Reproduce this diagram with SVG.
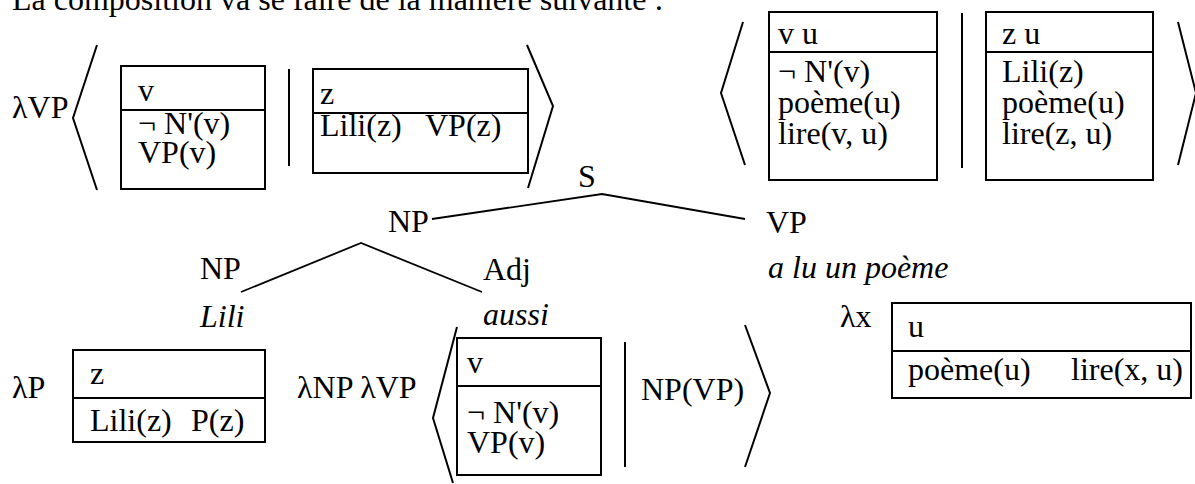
<svg xmlns="http://www.w3.org/2000/svg" width="1195" height="484" viewBox="0 0 1195 484" font-family="'Liberation Serif', 'Times New Roman', 'DejaVu Serif', serif">
<style>
text{font-family:'Liberation Serif','Times New Roman','DejaVu Serif',serif;font-size:32px;fill:#000}
.it{font-style:italic}
.box{fill:#fff;stroke:#000;stroke-width:2}
.ln{fill:none;stroke:#000;stroke-width:2}
.tr{fill:none;stroke:#000;stroke-width:1.8}
</style>
<rect width="1195" height="484" fill="#fff"/>
<text x="12" y="10">La composition va se faire de la manière suivante :</text>

<g id="top-left">
<text x="12" y="118">λVP</text>
<polyline class="ln" points="97,45 73,118 97,190"/>
<rect class="box" x="121" y="66" width="144" height="123"/>
<line class="ln" x1="121" y1="110" x2="265" y2="110"/>
<text x="138" y="101">v</text>
<text x="138" y="134">¬ N'(v)</text>
<text x="138" y="163">VP(v)</text>
<line class="ln" x1="289" y1="69" x2="289" y2="166"/>
<rect class="box" x="313" y="69" width="215" height="104"/>
<line class="ln" x1="313" y1="113" x2="528" y2="113"/>
<text x="320" y="104">z</text>
<text x="320" y="136">Lili(z)</text>
<text x="425" y="136">VP(z)</text>
<polyline class="ln" points="527,45 553,106 528,188"/>
</g>

<g id="top-right">
<polyline class="ln" points="743,22 721,93 745,165"/>
<rect class="box" x="769" y="12" width="168" height="168"/>
<line class="ln" x1="769" y1="52" x2="937" y2="52"/>
<text x="778" y="44">v u</text>
<text x="778" y="82">¬ N'(v)</text>
<text x="778" y="113">poème(u)</text>
<text x="778" y="144">lire(v, u)</text>
<line class="ln" x1="962" y1="13" x2="962" y2="168"/>
<rect class="box" x="986" y="12" width="167" height="168"/>
<line class="ln" x1="986" y1="52" x2="1153" y2="52"/>
<text x="1002" y="44">z u</text>
<text x="1002" y="82">Lili(z)</text>
<text x="1002" y="113">poème(u)</text>
<text x="1002" y="144">lire(z, u)</text>
<polyline class="ln" points="1178,22 1196,93 1178,165"/>
</g>

<g id="tree-labels">
<text x="578" y="187">S</text>
<text x="388" y="232">NP</text>
<text x="766" y="233">VP</text>
<text x="200" y="279">NP</text>
<text x="483" y="280">Adj</text>
<text class="it" x="768" y="278">a lu un poème</text>
<text class="it" x="200" y="327">Lili</text>
<text class="it" x="483" y="325">aussi</text>
</g>

<g id="connectors">
<polyline class="tr" points="432,219 602,194 745,219"/>
<polyline class="tr" points="241,292 361,243 482,292"/>
</g>

<g id="lili-sem">
<text x="12" y="398">λP</text>
<rect class="box" x="73" y="350" width="192" height="92"/>
<line class="ln" x1="73" y1="398" x2="265" y2="398"/>
<text x="90" y="384">z</text>
<text x="90" y="431">Lili(z)</text>
<text x="191" y="431">P(z)</text>
</g>

<g id="aussi-sem">
<text x="297" y="398">λNP λVP</text>
<polyline class="ln" points="457,327 433,418 453,483"/>
<rect class="box" x="457" y="338" width="144" height="137"/>
<line class="ln" x1="457" y1="386" x2="601" y2="386"/>
<text x="467" y="373">v</text>
<text x="467" y="423">¬ N'(v)</text>
<text x="467" y="453">VP(v)</text>
<line class="ln" x1="625" y1="342" x2="625" y2="467"/>
<text x="641" y="400">NP(VP)</text>
<polyline class="ln" points="745,325 770,393 745,467"/>
</g>

<g id="vp-sem">
<text x="840" y="327">λx</text>
<rect class="box" x="892" y="303" width="299" height="95"/>
<line class="ln" x1="892" y1="351" x2="1191" y2="351"/>
<text x="908" y="337">u</text>
<text x="908" y="380">poème(u)</text>
<text x="1071" y="380">lire(x, u)</text>
</g>
</svg>
